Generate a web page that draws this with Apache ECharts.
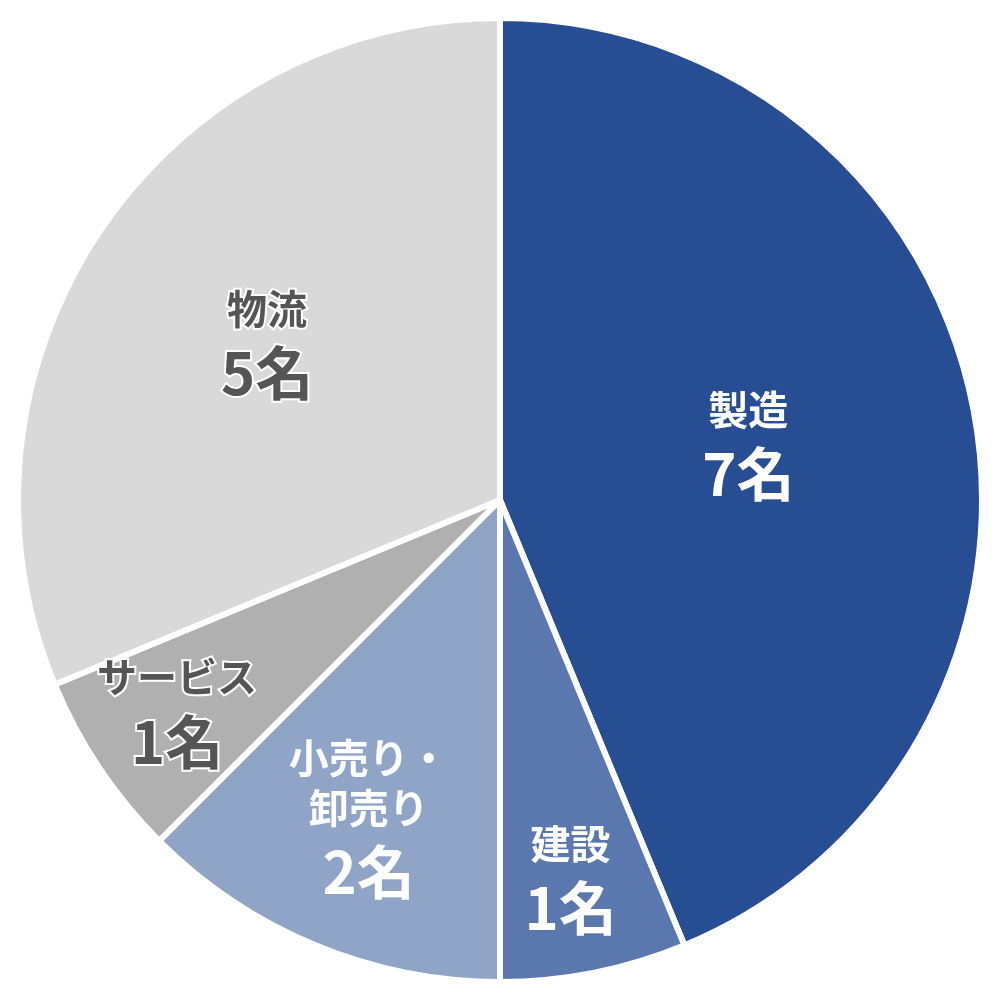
<!DOCTYPE html><html><head><meta charset="utf-8"><script src="https://cdn.jsdelivr.net/npm/echarts@6/dist/echarts.min.js"></script></head><body style="margin:0"><div id="c" style="width:1000px;height:1000px"></div><script>
const categories=["製造","建設","小売り・\n卸売り","サービス","物流"];
const values=[7,1,2,1,5];
const colors=["#274d93","#5b78ae","#90a4c8","#b0b0b0","#d9d9d9"];
const offsets=[[9,-3],[23,144],[-38,97],[-120,81],[-30,-16]];
const dark=[false,false,false,true,true];
const chart=echarts.init(document.getElementById('c'));
chart.setOption({series:[{type:'pie',center:[500,500],radius:[0,482],startAngle:90,clockwise:true,animation:false,
itemStyle:{borderColor:'#fff',borderWidth:6},
data:categories.map((n,i)=>({name:n,value:values[i],itemStyle:{color:colors[i]},
label:{position:'inside',offset:offsets[i],formatter:'{a|{b}}\n{b|{c}名}',
rich:{a:{fontSize:40,fontWeight:'bold',lineHeight:50,color:dark[i]?'#555':'#fff',textBorderColor:dark[i]?'#fff':'transparent',textBorderWidth:dark[i]?4:0,fontFamily:'Noto Sans CJK JP'},
b:{fontSize:58,fontWeight:'bold',lineHeight:80,color:dark[i]?'#555':'#fff',textBorderColor:dark[i]?'#fff':'transparent',textBorderWidth:dark[i]?4:0,fontFamily:'Noto Sans CJK JP'}}}}))}]});
</script></body></html>
